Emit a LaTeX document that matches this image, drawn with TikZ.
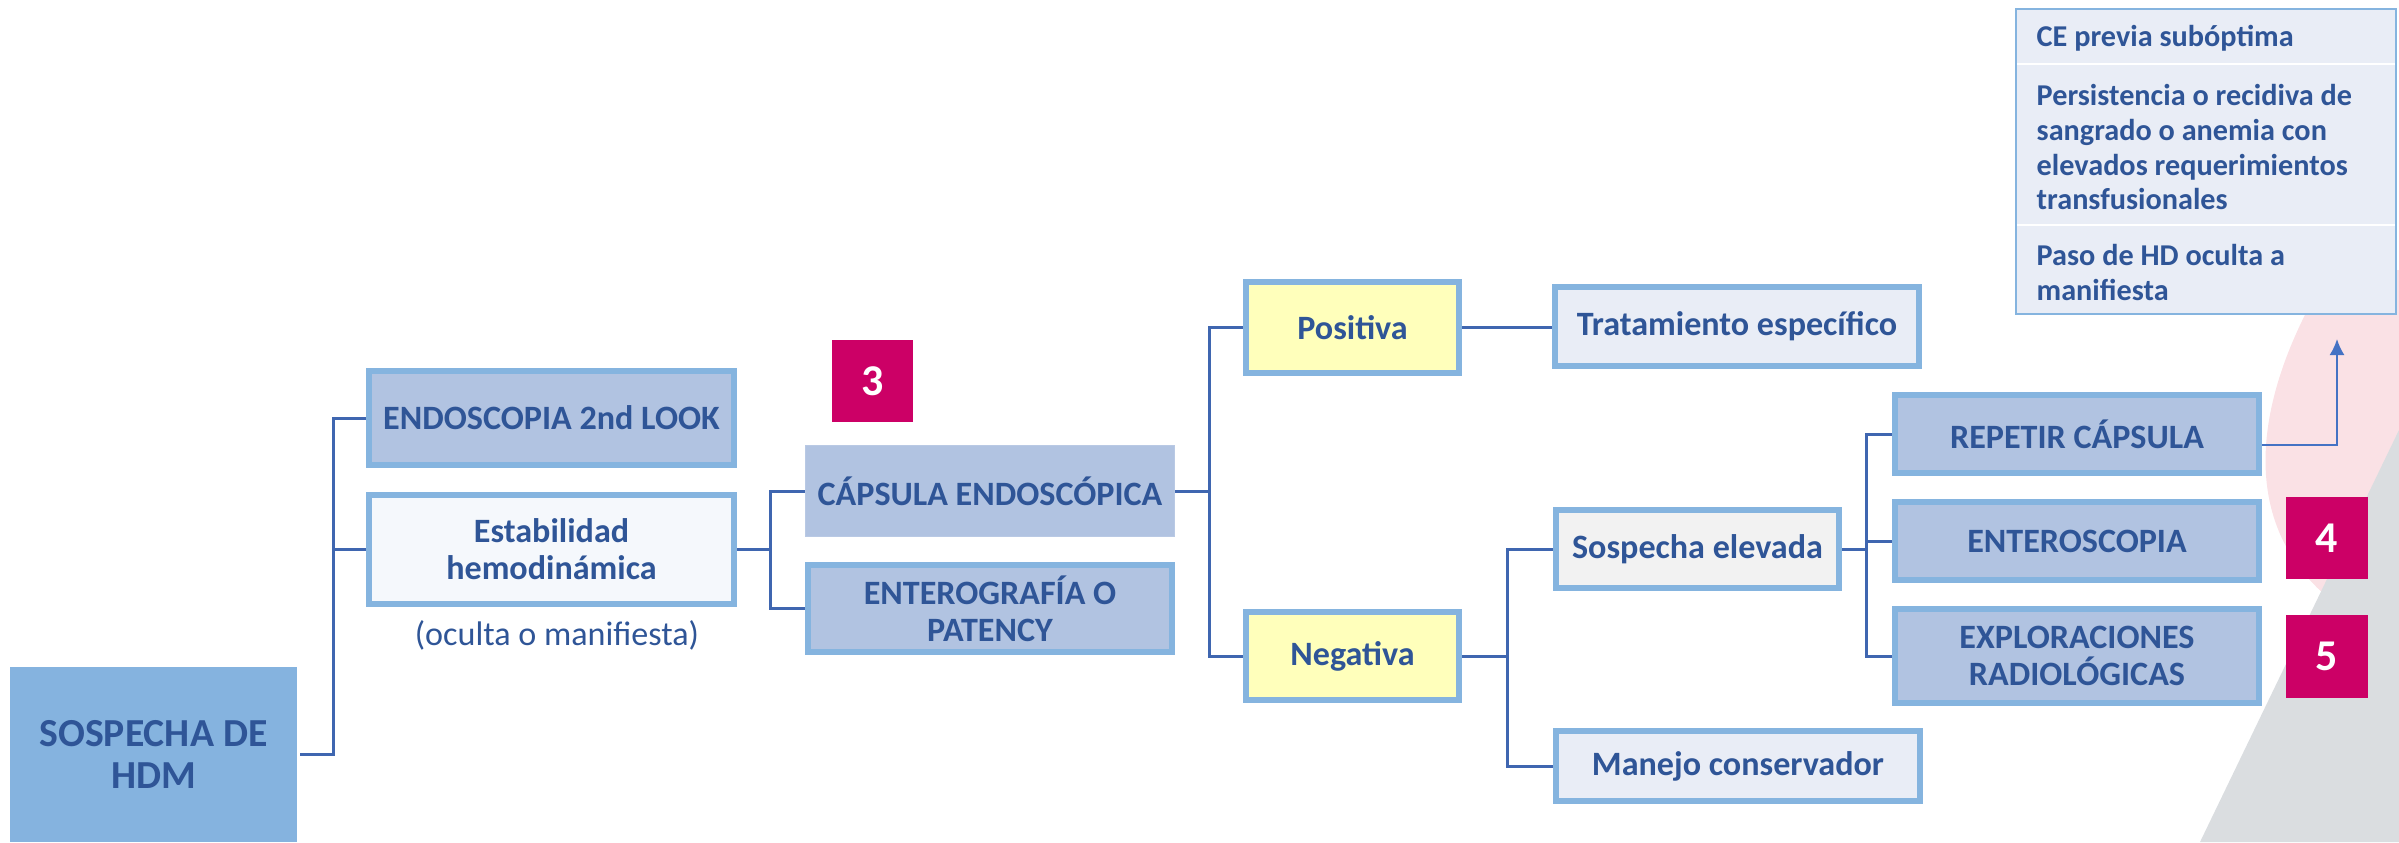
\documentclass[tikz,border=0pt]{standalone}
\usepackage{fontspec}
\setmainfont{Carlito}
\usetikzlibrary{arrows.meta}
\definecolor{txtblue}{HTML}{2F5597}
\definecolor{bordblue}{HTML}{85B4DF}
\definecolor{slate}{HTML}{B1C3E1}
\definecolor{sospblue}{HTML}{85B3DF}
\definecolor{paleyel}{HTML}{FFFFBB}
\definecolor{paleblue}{HTML}{E9EDF6}
\definecolor{palegray}{HTML}{F2F2F2}
\definecolor{paleest}{HTML}{F5F8FC}
\definecolor{linkblue}{HTML}{3F66B0}
\definecolor{arrblue}{HTML}{4472C4}
\definecolor{badgered}{HTML}{CC0066}
\definecolor{pinkbg}{HTML}{FAE1E5}
\definecolor{graybg}{HTML}{DADDE0}
\begin{document}
\begin{tikzpicture}[x=0.01cm,y=-0.01cm,
		tbox/.style={draw=bordblue,line width=0.06cm,fill=slate,text=txtblue,inner sep=0pt,align=center,font=\bfseries\fontsize{9.7}{10.5}\selectfont},
		link/.style={draw=linkblue,line width=0.03cm},
		arr/.style={draw=arrblue,line width=0.02cm,-{Latex[length=0.16cm,width=0.15cm]}},
		badge/.style={fill=badgered,text=white,inner sep=0pt,minimum width=0.81cm,minimum height=0.82cm,font=\bfseries\fontsize{12.5}{14}\selectfont},
		cetext/.style={text=txtblue,anchor=west,align=left,inner sep=0pt,font=\bfseries\fontsize{8.6}{9.95}\selectfont}]
		\useasboundingbox (0,0) rectangle (2399,842);
		\fill [pinkbg] (2330,270) .. controls (2250,400) and (2240,520) .. (2325,595) -- (2399,595) -- (2399,270) -- cycle;
		\fill [graybg] (2399,430) -- (2200,842) -- (2399,842) -- cycle;
		\node [tbox,draw=none,fill=sospblue,minimum width=2.87cm,minimum height=1.75cm,font=\bfseries\fontsize{11.3}{12}\selectfont] (sosp) at (153.5,754.5) {SOSPECHA DE\\HDM};
		\node [tbox,minimum width=3.65cm,minimum height=0.94cm] (endo) at (551.5,418) {ENDOSCOPIA 2nd LOOK};
		\node [tbox,fill=paleest,minimum width=3.65cm,minimum height=1.09cm] (estab) at (551.5,549.5) {Estabilidad\\hemodinámica};
		\node [text=txtblue,inner sep=0pt,font=\fontsize{9.7}{11}\selectfont] (ocult) at (557,635) {(oculta o manifiesta)};
		\node [tbox,draw=slate!90!white,line width=0.01cm,minimum width=3.69cm,minimum height=0.91cm] (caps) at (990,491) {CÁPSULA ENDOSCÓPICA};
		\node [tbox,minimum width=3.64cm,minimum height=0.87cm] (entero) at (990,608.5) {ENTEROGRAFÍA O\\PATENCY};
		\node [badge] (b3) at (872.5,381) {3};
		\node [tbox,fill=paleyel,minimum width=2.13cm,minimum height=0.91cm] (posit) at (1352.5,327.5) {Positiva};
		\node [tbox,fill=paleyel,minimum width=2.13cm,minimum height=0.88cm] (negat) at (1352.5,656) {Negativa};
		\node [tbox,fill=paleblue,minimum width=3.64cm,minimum height=0.79cm] (trat) at (1737,326.5) {Tratamiento específico};
		\node [tbox,fill=palegray,minimum width=2.83cm,minimum height=0.78cm] (sospel) at (1697.5,549) {Sospecha elevada};
		\node [tbox,fill=paleblue,minimum width=3.64cm,minimum height=0.70cm] (manejo) at (1738,766) {Manejo conservador};
		\node [tbox,minimum width=3.64cm,minimum height=0.78cm] (repetir) at (2077,434) {REPETIR CÁPSULA};
		\node [tbox,minimum width=3.64cm,minimum height=0.78cm] (enteros) at (2077,541) {ENTEROSCOPIA};
		\node [tbox,minimum width=3.64cm,minimum height=0.94cm] (explor) at (2077,656) {EXPLORACIONES\\RADIOLÓGICAS};
		\node [badge] (b4) at (2327,538) {4};
		\node [badge] (b5) at (2327,656.5) {5};
		\node [draw=bordblue,line width=0.025cm,fill=paleblue,inner sep=0pt,minimum width=3.80cm,minimum height=3.05cm] (ce) at (2206,161.5) {};
		\draw [white,line width=0.025cm] (2017,64) -- (2395,64);
		\draw [white,line width=0.025cm] (2017,225) -- (2395,225);
		\node [cetext] (ce1) at (2036,38) {CE previa subóptima};
		\node [cetext] (ce2) at (2036,147) {Persistencia o recidiva de\\sangrado o anemia con\\elevados requerimientos\\transfusionales};
		\node [cetext] (ce3) at (2036,272) {Paso de HD oculta a\\manifiesta};
		\coordinate (j1) at (333,0);
		\coordinate (j2) at (770,0);
		\coordinate (j3) at (1209,0);
		\coordinate (j4) at (1507,0);
		\coordinate (j5) at (1866,0);
		\coordinate (cetip) at (2337,339);
		\draw [link] (endo.west) -| (j1 |- sosp) -- (sosp.east);
		\draw [link] (estab.west) -- (estab.west -| j1);
		\draw [link] (caps.west) -| (j2 |- entero) -- (entero.west);
		\draw [link] (estab.east) -- (estab.east -| j2);
		\draw [link] (posit.west) -| (j3 |- negat) -- (negat.west);
		\draw [link] (caps.east) -- (caps.east -| j3);
		\draw [link] (posit.east) -- (posit.east -| trat.west);
		\draw [link] (sospel.west) -| (j4 |- manejo) -- (manejo.west);
		\draw [link] (negat.east) -- (negat.east -| j4);
		\draw [link] (repetir.west) -| (j5 |- explor) -- (explor.west);
		\draw [link] (enteros.west) -- (enteros.west -| j5);
		\draw [link] (sospel.east) -- (sospel.east -| j5);
		\draw [arr] ([yshift=-0.11cm]repetir.east) -| (cetip);
	\end{tikzpicture}
\end{document}
